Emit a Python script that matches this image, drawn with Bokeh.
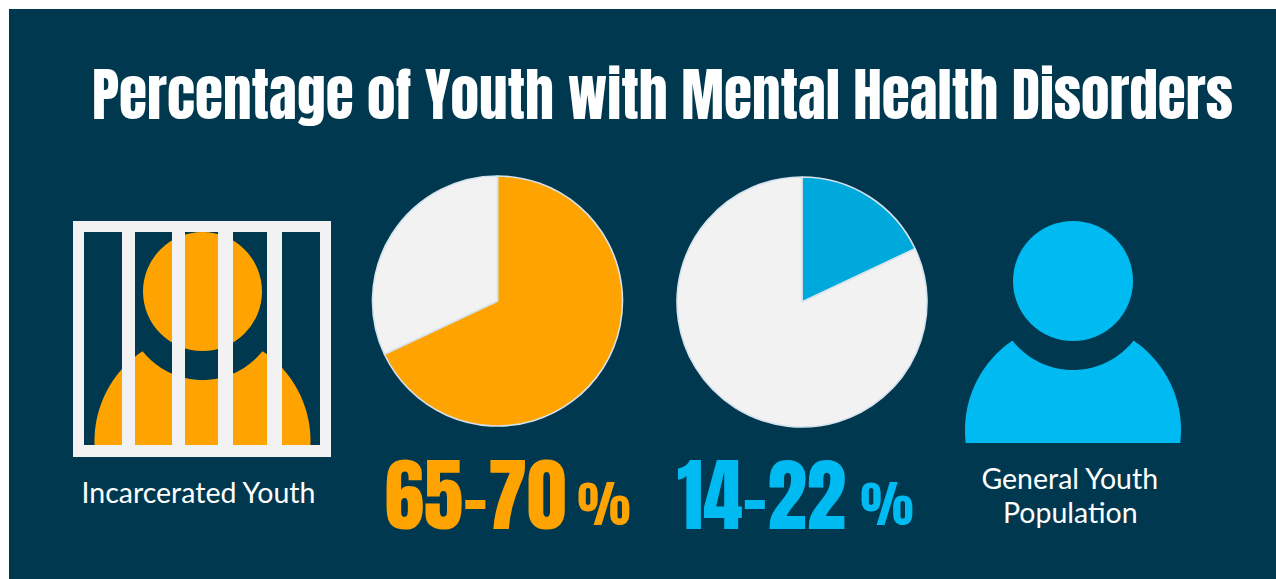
import numpy as np
from bokeh.core.properties import value
from bokeh.embed import file_html
from bokeh.models import Range1d
from bokeh.plotting import figure
from bokeh.resources import INLINE

W, H = 1276, 579
BG = "#00394F"
ORANGE = "#FFA300"
BLUE = "#00BAF2"
BLUE_SLICE = "#00A9DC"
PALE = "#F2F2F2"
EDGE = "#D5E3EC"

title_text = "Percentage of Youth with Mental Health Disorders"
incarcerated_share = [68, 32]
general_share = [18, 82]
incarcerated_range = "65-70"
general_range = "14-22"
percent_sign = "%"
left_label = ["Incarcerated Youth"]
right_label = ["General Youth", "Population"]

NUMBER_FONT = value("Anton")
LABEL_FONT = value("Lato")
BASELINE_SHIFT = 0.43  # share of the font size that the alphabetic baseline sits low


def yy(py):
    """Convert a top-down page offset to the upward y axis."""
    return H - np.asarray(py, dtype=float)


p = figure(width=W, height=H, x_range=Range1d(0.5, W + 0.5), y_range=Range1d(-0.5, H - 0.5),
           output_backend="svg", toolbar_location=None, min_border=0,
           background_fill_color="white", border_fill_color="white")
p.axis.visible = False
p.grid.visible = False
p.outline_line_color = None

# Panel behind everything
p.quad(left=[9], right=[W + 1], top=[yy(9)], bottom=[-1], fill_color=BG, line_color=None)


def person(cx, head_cy, head_r, notch_cy, notch_r, body_cy, body_r, base, color):
    """Head circle plus a shoulder dome with a curved bite taken out under the head."""
    p.circle(x=[cx], y=[yy(head_cy)], radius=head_r, fill_color=color, line_color=None)
    # where the shoulder circle meets the bite
    d = body_cy - notch_cy
    tip_dy = (d * d + notch_r ** 2 - body_r ** 2) / (2 * d)
    tip_dx = np.sqrt(notch_r ** 2 - tip_dy ** 2)
    tip_y = notch_cy + tip_dy
    base_dx = np.sqrt(body_r ** 2 - (base - body_cy) ** 2)

    start = np.arctan2(base - body_cy, -base_dx)
    stop = np.arctan2(tip_y - body_cy, -tip_dx)
    if start < 0:
        start += 2 * np.pi
    if stop < 0:
        stop += 2 * np.pi
    left = np.linspace(start, stop, 60)
    xs_left = cx + body_r * np.cos(left)
    ys_left = body_cy + body_r * np.sin(left)

    ring = np.linspace(np.arctan2(tip_dy, -tip_dx), np.arctan2(tip_dy, tip_dx), 60)
    xs_ring = cx + notch_r * np.cos(ring)
    ys_ring = notch_cy + notch_r * np.sin(ring)

    xs = np.concatenate([xs_left, xs_ring, 2 * cx - xs_left[::-1]])
    ys = np.concatenate([ys_left, ys_ring, ys_left[::-1]])
    p.patch(xs, yy(ys), fill_color=color, line_color=None)


def pie(cx, cy, r, shares, colors, start_deg=90.0):
    """Slices run clockwise from twelve o'clock."""
    total = float(sum(shares))
    angle = np.deg2rad(start_deg)
    for share, color in zip(shares, colors):
        end = angle - 2 * np.pi * share / total
        p.wedge(x=[cx], y=[yy(cy)], radius=r, start_angle=end, end_angle=angle,
                direction="anticlock", fill_color=color, line_color=EDGE, line_width=1.6)
        angle = end


# Left icon: figure behind bars
person(202.5, 291.5, 59.5, 303.4, 76.6, 441, 108, 445, ORANGE)
windows = [(84, 122), (135, 172), (185, 218), (233, 267), (282, 320)]
frame_x = [[[73, 331, 331, 73], *[[a, b, b, a] for a, b in windows]]]
frame_y = [[[221, 221, 457, 457], *[[232, 232, 445, 445] for _ in windows]]]
p.multi_polygons(
    xs=[[[np.array(ring, dtype=float) for ring in frame_x[0]]]],
    ys=[[[yy(ring) for ring in frame_y[0]]]],
    fill_color=PALE, line_color=None,
)

# Right icon
person(1073, 281, 60, 293, 77, 430, 108, 443, BLUE)

# Pies
pie(497.5, 301, 125, incarcerated_share, [ORANGE, PALE])
pie(802, 302, 125, general_share, [BLUE_SLICE, PALE])


def caption(x, py, s, size, color, font, align="left"):
    p.text(x=[x], y=[yy(py - BASELINE_SHIFT * size)], text=[s], text_font=font,
           text_font_size=f"{size}px", text_color=color, text_align=align,
           text_baseline="alphabetic")


caption(92, 120, title_text, 57.3, "#FFFFFF", NUMBER_FONT)
caption(384.5, 529, incarcerated_range, 79.5, ORANGE, NUMBER_FONT)
caption(577.5, 525, percent_sign, 50, ORANGE, NUMBER_FONT)
caption(677, 529, general_range, 79.5, BLUE, NUMBER_FONT)
caption(860.5, 525, percent_sign, 50, BLUE, NUMBER_FONT)

caption(199, 504, left_label[0], 28.5, "#FFFFFF", LABEL_FONT, align="center")
caption(1070.3, 490, right_label[0], 28.5, "#FFFFFF", LABEL_FONT, align="center")
caption(1070.3, 524, right_label[1], 28.5, "#FFFFFF", LABEL_FONT, align="center")

open("out.html", "w").write(file_html(p, INLINE))
